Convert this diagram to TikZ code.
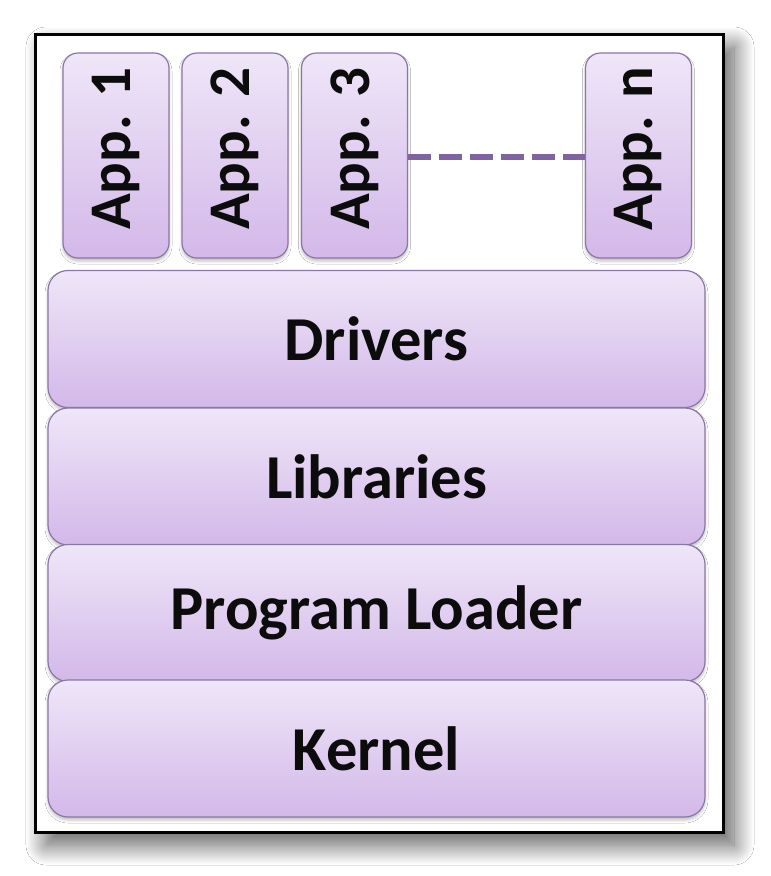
\documentclass[tikz,border=0pt]{standalone}
\usepackage{fontspec}
\setmainfont{Carlito}
\usetikzlibrary{shadows.blur}
\definecolor{boxtop}{RGB}{239,230,248}
\definecolor{boxbot}{RGB}{211,184,233}
\definecolor{boxline}{RGB}{140,118,166}
\definecolor{dashpurple}{RGB}{128,100,162}
\definecolor{txt}{RGB}{12,12,12}
\tikzset{
  layerbox/.style={draw=boxline, line width=1.2pt, rounded corners=20pt,
    top color=boxtop, bottom color=boxbot, minimum width=657pt, minimum height=137pt,
    inner sep=0pt, text=txt, font=\bfseries\fontsize{62.5}{72}\selectfont,
    blur shadow={shadow xshift=0pt, shadow yshift=-3pt, shadow blur radius=3pt, shadow opacity=25}},
  appbox/.style={draw=boxline, line width=1.2pt, rounded corners=15pt,
    top color=boxtop, bottom color=boxbot, minimum width=106pt, minimum height=205pt,
    inner sep=0pt, text=txt, font=\bfseries\fontsize{59}{68}\selectfont,
    blur shadow={shadow xshift=0pt, shadow yshift=-3pt, shadow blur radius=3pt, shadow opacity=25}},
  framebox/.style={draw=black, line width=3pt, fill=white,
    blur shadow={shadow xshift=11pt, shadow yshift=-13pt, shadow blur radius=20pt, shadow blur steps=30, shadow opacity=65}},
  dots/.style={draw=dashpurple, line width=5.5pt, dash pattern=on 23pt off 8pt}
}
\newcommand{\applabel}[1]{\rotatebox{90}{\hspace*{14pt}#1}}
\begin{document}
\begin{tikzpicture}[x=1pt, y=-1pt]
\useasboundingbox (0,0) rectangle (771,876);
\fill[white] (0,0) rectangle (771,876);
\node[framebox, minimum width=688pt, minimum height=798pt, inner sep=0pt] (frame) at (379,433) {};
\node[appbox] (app1) at (116,155.5) {\applabel{App. 1}};
\node[appbox] (app2) at (235,155.5) {\applabel{App. 2}};
\node[appbox] (app3) at (354.5,155.5) {\applabel{App. 3}};
\node[appbox] (appn) at (638.5,155.5) {\applabel{App. n}};
\draw[dots] (app3.east |- 0,157) -- (appn.west |- 0,157);
\node[layerbox] (drivers) at (376.5,339) {Drivers};
\node[layerbox] (libs) at (376.5,476.5) {Libraries};
\node[layerbox] (loader) at (376.5,613) {Program Loader};
\node[layerbox] (kernel) at (376.5,748.5) {Kernel};
\end{tikzpicture}
\end{document}
